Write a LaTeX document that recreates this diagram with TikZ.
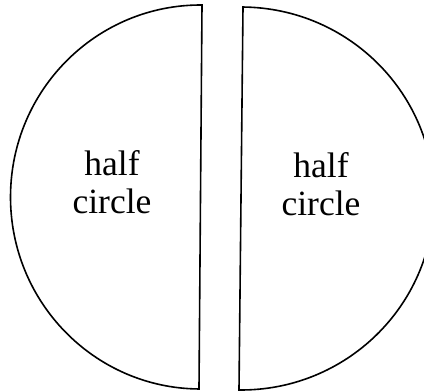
\documentclass[tikz,border=0pt]{standalone}
\usepackage{fontspec}
\setmainfont{Liberation Serif}
\begin{document}
\begin{tikzpicture}[x=1pt,y=-1pt,
  shapeline/.style={line width=1.6pt,line join=miter},
  label/.style={align=center,inner sep=0pt,font=\fontsize{35.5}{38}\selectfont}]
\useasboundingbox (0,0) rectangle (424,391);
\clip (0,0) rectangle (424,391);
% left half
\begin{scope}[shift={(200.5,197)},rotate=-0.45]
  \draw[shapeline] (0,-192) arc[start angle=-90,end angle=-270,x radius=190,y radius=192] -- cycle;
\end{scope}
% right half
\begin{scope}[shift={(241,198.5)},rotate=-0.6]
  \draw[shapeline] (0,-191.5) arc[start angle=-90,end angle=90,x radius=193,y radius=191.5] -- cycle;
\end{scope}
\node[label,anchor=base] (tl) at (112,213.5) {half\\circle};
\node[label,anchor=base] (tr) at (321,215) {half\\circle};
\end{tikzpicture}
\end{document}
